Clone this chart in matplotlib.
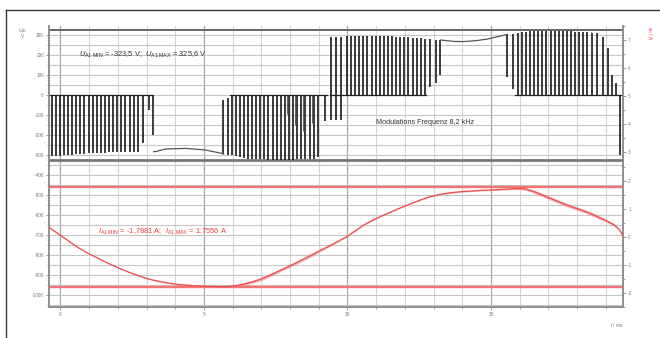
import numpy as np
import matplotlib
matplotlib.use("Agg")
import matplotlib.pyplot as plt
from matplotlib.ticker import MultipleLocator, FixedLocator
from matplotlib.lines import Line2D

plt.rcParams["font.family"] = ["Liberation Sans", "DejaVu Sans"]
plt.rcParams["mathtext.fontset"] = "custom"
plt.rcParams["mathtext.rm"] = "Liberation Sans"
plt.rcParams["mathtext.it"] = "Liberation Sans:italic"
plt.rcParams["axes.unicode_minus"] = False

# ---- data (t in ms) ----
# phase current I_A1 in A (right axis)
cur_t = [-0.38, -0.16, 0.06, 0.35, 0.64, 0.93, 1.22, 1.51, 1.80, 2.09, 2.38, 2.67,
         2.96, 3.25, 3.54, 3.83, 4.12, 4.41, 4.70, 5.00, 5.29, 5.58, 5.87, 6.16,
         6.45, 6.74, 7.03, 7.32, 7.61, 7.90, 8.19, 8.48, 8.77, 9.07, 9.38, 9.68,
         9.99, 10.28, 10.57, 10.86, 11.15, 11.44, 11.73, 12.02, 12.31, 12.60, 12.89,
         13.18, 13.47, 13.76, 14.05, 14.34, 14.63, 14.92, 15.22, 15.50, 15.79, 16.00,
         16.20, 16.40, 16.61, 16.96, 17.25, 17.54, 17.83, 18.12, 18.41, 18.70, 19.00,
         19.28, 19.45, 19.60]
cur_a = [0.32, 0.16, 0.01, -0.20, -0.40, -0.57, -0.72, -0.87, -1.01, -1.14, -1.26, -1.37,
         -1.47, -1.55, -1.61, -1.66, -1.70, -1.725, -1.745, -1.76, -1.77, -1.775, -1.77, -1.73,
         -1.67, -1.59, -1.49, -1.36, -1.22, -1.08, -0.94, -0.79, -0.64, -0.48, -0.32, -0.16,
         0.01, 0.22, 0.42, 0.58, 0.72, 0.85, 0.98, 1.10, 1.22, 1.33, 1.43,
         1.50, 1.55, 1.585, 1.61, 1.63, 1.65, 1.66, 1.675, 1.69, 1.71, 1.715,
         1.70, 1.64, 1.56, 1.41, 1.29, 1.17, 1.06, 0.96, 0.85, 0.72, 0.58,
         0.43, 0.28, 0.04]
# switching ripple (half peak-to-peak) on the current, A
cur_ripple = [0.01, 0.01, 0.01, 0.01, 0.01, 0.01, 0.012, 0.012, 0.012, 0.012, 0.012, 0.012,
              0.013, 0.014, 0.015, 0.017, 0.02, 0.022, 0.025, 0.028, 0.03, 0.032, 0.035, 0.04,
              0.05, 0.052, 0.055, 0.055, 0.055, 0.055, 0.055, 0.055, 0.055, 0.045, 0.03, 0.02,
              0.015, 0.015, 0.015, 0.015, 0.015, 0.015, 0.015, 0.015, 0.015, 0.015, 0.015,
              0.017, 0.02, 0.02, 0.02, 0.02, 0.02, 0.02, 0.02, 0.025, 0.03, 0.035,
              0.045, 0.05, 0.06, 0.06, 0.06, 0.06, 0.06, 0.06, 0.06, 0.06, 0.05,
              0.04, 0.03, 0.02]

# DC link envelope of the PWM voltage, V
neg_env_t = [-0.4, 0.9, 2.3, 3.31, 3.66, 4.36, 5.05, 5.63, 6.45, 7.6, 8.78, 9.13, 9.3]
neg_env_u = [-308, -292, -283, -283, -270, -267, -275, -292, -317, -325, -320, -300, -295]
pos_env_t = [9.41, 10.0, 11.15, 12.3, 13.24, 13.7, 14.04, 14.5, 14.88, 15.25, 15.57,
             16.38, 17.53, 18.47, 18.92, 19.6]
pos_env_u = [287, 297, 297, 287, 275, 268, 267, 272, 280, 292, 303,
             320, 320, 313, 292, 280]

# pulse bursts with full pulses: (first pulse, last pulse, sign)
burst_start = [-0.31, 5.96, 9.98, 15.93]
burst_end = [2.75, 9.10, 12.72, 18.60]
burst_sign = [-1, -1, 1, 1]
pulse_step = 0.143  # visible pulse pitch, ms

# single odd pulses: time, low end, high end (None = envelope)
odd_t = [2.89, 3.07, 3.24, 5.68, 5.82, 9.23,
         9.41, 9.60, 9.79,
         12.89, 13.07, 13.24, 15.57, 15.78,
         18.71, 18.89, 19.06, 19.23, 19.37, 19.51]
odd_lo = [-240, -75, -200, None, None, -130,
          -125, -125, -125,
          42, 58, 100, 90, 30,
          0, 0, 0, 0, 0, -300]
odd_hi = [0, 0, 0, -25, -15, 0,
          290, 290, 290,
          None, None, None, None, None,
          310, 292, 235, 100, 60, 0]

# short in-between pulses in the darker stretches (thin)
thin_t = [7.89, 8.18, 8.46, 8.75, 17.91, 18.20, 18.48]
thin_lo = [-95, -150, -180, -140, 35, 35, 35]
thin_hi = [0, 0, 0, 0, None, None, None]

# zero level between pulses, per burst (from, to)
base_from = [-0.38, 5.9, 9.4, 15.85]
base_to = [3.24, 9.3, 12.75, 19.6]

# smooth sections where the bridge stays on
gap1_t = [3.24, 3.31, 3.66, 4.36, 5.05, 5.63, 5.68]
gap1_u = [-283, -283, -270, -267, -275, -292, -296]
gap2_t = [13.24, 13.7, 14.04, 14.5, 14.88, 15.25, 15.57]
gap2_u = [275, 268, 267, 272, 280, 292, 303]

u_min, u_max = -323.5, 325.6
i_min, i_max = -1.7881, 1.7556

x_ticks = [0, 5, 10, 15]
u_ticks = list(range(-1000, 301, 100))
i_ticks = list(range(-2, 8))

# ---- figure ----
fig = plt.figure(figsize=(6.6, 3.38), dpi=100)
ax = fig.add_axes([49 / 660, 1 - 307 / 338, 574 / 660, 281 / 338])
ax2 = ax.twinx()

ax.set_xlim(-0.4, 19.6)
ax.set_ylim(-1060, 345)
ax2.set_ylim(-2.5, 7.5)

gcol = "#8c8c8c"
ax.xaxis.set_major_locator(FixedLocator(x_ticks))
ax.xaxis.set_minor_locator(MultipleLocator(1))
ax.yaxis.set_major_locator(FixedLocator(u_ticks))
ax.yaxis.set_minor_locator(MultipleLocator(50))
ax2.yaxis.set_major_locator(FixedLocator(i_ticks))
ax2.yaxis.set_minor_locator(MultipleLocator(0.5))

ax.grid(which="major", axis="x", color="#a8a8a8", lw=0.9)
ax.grid(which="minor", axis="x", color="#d6d6d6", lw=0.8)
ax.grid(which="both", axis="y", color="#c6c6c6", lw=0.8)
ax.set_axisbelow(True)

for a in (ax, ax2):
    a.spines["top"].set_visible(False)
    for s in ("left", "right", "bottom"):
        a.spines[s].set_color(gcol)
        a.spines[s].set_linewidth(1.1)
    a.tick_params(which="both", colors=gcol, labelsize=3.4, labelcolor="#777777",
                  length=2.2, width=0.6, pad=1.5)
    a.tick_params(which="minor", length=1.6)

# voltage min / max markers
ax.axhline(u_max, color="#666666", lw=1.4, zorder=2)
ax.axhline(u_min, color="#777777", lw=2.0, zorder=2)

vcol = "#222222"
# full pulses, zero to envelope
for t0, t1, sg in zip(burst_start, burst_end, burst_sign):
    tp = np.arange(t0, t1 + 1e-6, pulse_step)
    if sg < 0:
        tip = np.interp(tp, neg_env_t, neg_env_u)
    else:
        tip = np.interp(tp, pos_env_t, pos_env_u)
    ax.vlines(tp, 0, tip, color=vcol, lw=1.25, zorder=3)

# odd pulses
for t, lo, hi in zip(odd_t, odd_lo, odd_hi):
    if lo is None:
        lo = np.interp(t, neg_env_t, neg_env_u)
    if hi is None:
        hi = np.interp(t, pos_env_t, pos_env_u)
    ax.vlines(t, lo, hi, color=vcol, lw=1.25, zorder=3)

for t, lo, hi in zip(thin_t, thin_lo, thin_hi):
    if hi is None:
        hi = np.interp(t, pos_env_t, pos_env_u)
    ax.vlines(t, lo, hi, color="#444444", lw=0.6, zorder=3)

for b0, b1 in zip(base_from, base_to):
    ax.plot([b0, b1], [0, 0], color=vcol, lw=0.9, zorder=3)

ax.plot(gap1_t, gap1_u, color="#555555", lw=0.9, zorder=3)
ax.plot(gap2_t, gap2_u, color="#555555", lw=0.9, zorder=3)

# current
rcol = "#f04a4a"
ax2.axhline(i_max, color="#f27474", lw=1.7, zorder=2)
ax2.axhline(i_min, color="#f27474", lw=1.7, zorder=2)
ca = np.array(cur_a)
cr = np.array(cur_ripple)
ax2.fill_between(cur_t, ca - cr, ca + cr, color="#f37a7a", alpha=0.55, lw=0, zorder=3)
ax2.plot(cur_t, cur_a, color=rcol, lw=0.9, zorder=4)

# annotations
ax.text(0.63, 200, r"$U_{\mathrm{A1\ MIN}}$ = -323,5 V;  $U_{\mathrm{A1\ MAX}}$ = 325,6 V",
        fontsize=5.4, color="#333333", va="center", ha="left")
ax.text(10.98, -140, "Modulations Frequenz 8,2 kHz", fontsize=5.2, color="#333333",
        va="center", ha="left")
ax2.text(1.29, (237 - 232) / 28.1, r"$I_{\mathrm{A1\ MIN}}$ = -1,7881 A;  $I_{\mathrm{A1\ MAX}}$ = 1,7556 A",
         fontsize=5.4, color="#f03c3c", va="center", ha="left")

fig.text(23 / 660, 1 - 31 / 338, r"$U_{A1}$", fontsize=3.4, color="#777777", ha="center", va="center")
fig.text(23 / 660, 1 - 37 / 338, "V", fontsize=3.4, color="#777777", ha="center", va="center")
fig.text(649 / 660, 1 - 33 / 338, r"$I_{A1}$ / A", fontsize=3.4, color="#f03c3c",
         ha="center", va="center", rotation=-90)
fig.text(617 / 660, 1 - 325 / 338, r"$t$ / ms", fontsize=3.4, color="#777777",
         ha="center", va="center")

# screenshot frame (top and left edge)
fig.add_artist(Line2D([6 / 660, 6 / 660], [0, 1 - 10 / 338], transform=fig.transFigure,
                      color="#333333", lw=1.0))
fig.add_artist(Line2D([6 / 660, 1], [1 - 10 / 338, 1 - 10 / 338], transform=fig.transFigure,
                      color="#333333", lw=1.0))

fig.savefig("out.png", dpi=100)
